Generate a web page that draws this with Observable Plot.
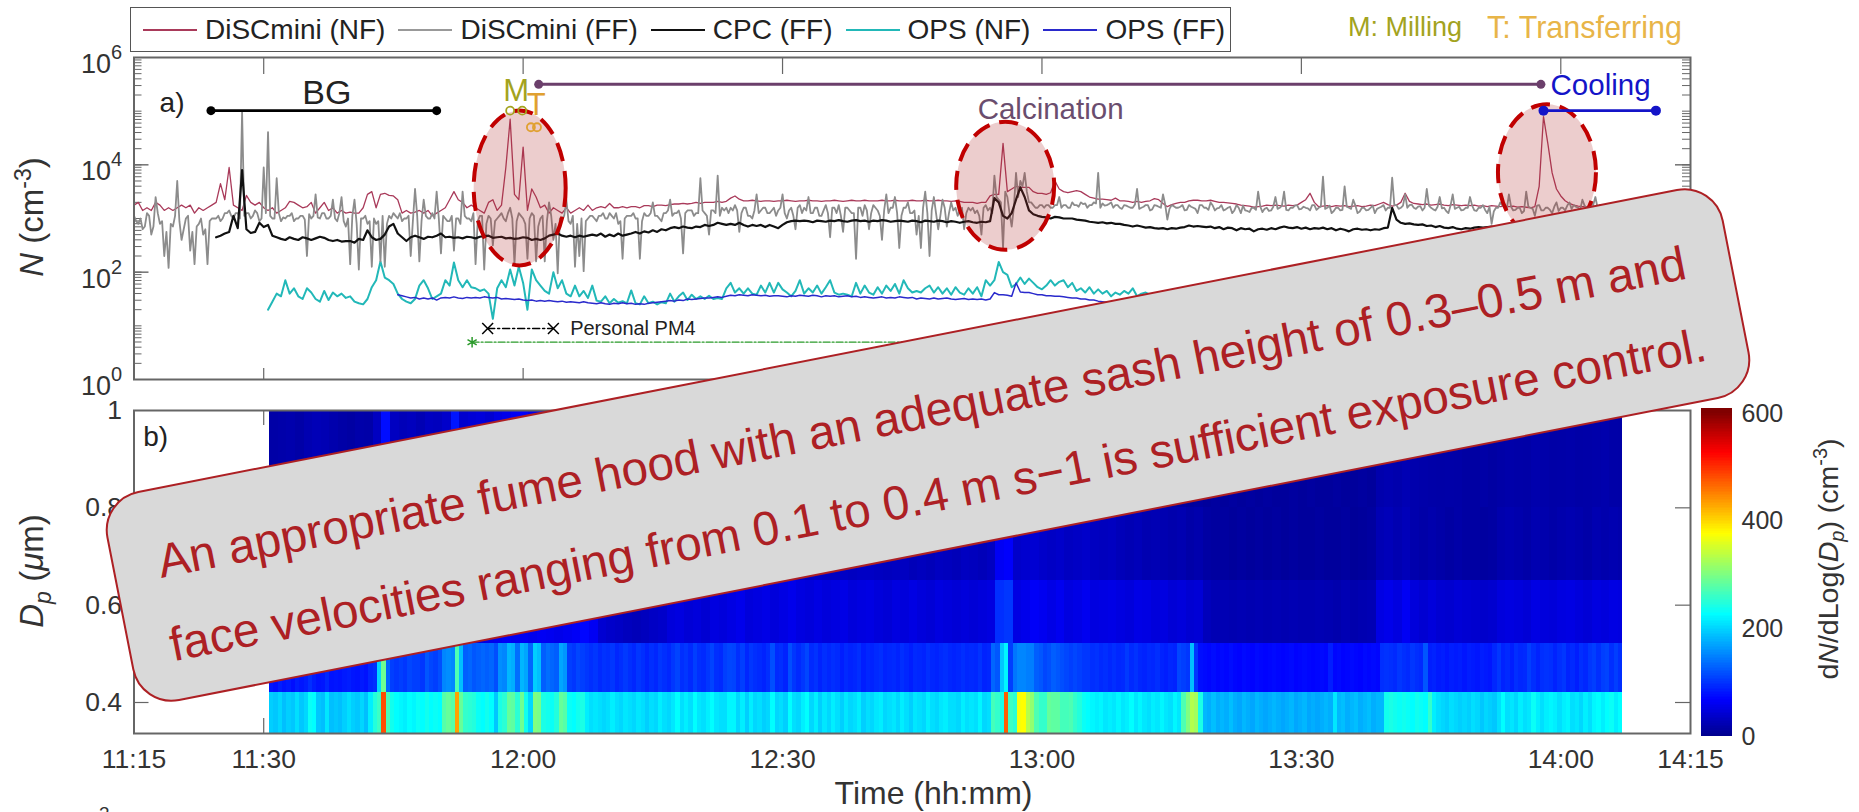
<!DOCTYPE html>
<html><head><meta charset="utf-8">
<script src="https://cdn.jsdelivr.net/npm/d3@7"></script>
<script src="https://cdn.jsdelivr.net/npm/@observablehq/plot@0.6"></script>
<style>
html,body{margin:0;padding:0;background:#fff;width:1859px;height:812px;overflow:hidden;font-family:"Liberation Sans",Arial,sans-serif;color:#333}
#page{position:relative;width:1859px;height:812px;overflow:hidden}
#page>div.p{position:absolute;left:0}
.rot{position:absolute;transform:translate(-50%,-50%) rotate(-90deg);white-space:nowrap}
sup,sub{font-size:70%;line-height:0}
#legend{position:absolute;left:130px;top:7px;width:1101px;height:45px;box-sizing:border-box;border:1.5px solid #555;background:#fff;display:flex;align-items:center;padding-left:12px;font-size:28px;color:#222;white-space:nowrap}
#legend .k{display:inline-block;width:54px;height:0;border-top:2px solid;margin-right:8px}
#legend .e{display:flex;align-items:center;margin-right:13px}
#box{position:absolute;left:104px;top:337.5px;width:1648px;height:214px;box-sizing:border-box;padding-top:18px;transform:rotate(-11.1deg);background:#d9d9d9;border:2px solid #ad2024;border-radius:40px;display:flex;flex-direction:column;justify-content:center;align-items:center;color:#ad2024;font-size:47.7px;line-height:84px;white-space:nowrap}
</style></head><body><div id="page"></div>
<script>
// readings are log10(N) taken off the left axis, sampled every half minute from 11:15
const redLog=[3.25,3.3,3.15,3.2,3.15,3.3,3.25,3.15,3.2,3.15,3.2,3.25,3.2,3.25,3.1,3.2,3.15,3.2,3.25,3.3,3.65,3.35,3.95,3.25,3.2,3.15,3.43,3.3,3.25,3.3,3.2,3.15,3.2,3.1,3.15,3.2,3.32,3.3,3.25,3.2,3.22,3.3,3.1,3.2,3.3,3.15,3.2,3.1,3.15,3.1,3.12,3.1,3.1,3.2,3.45,3.5,3.2,3.45,3.47,3.43,3.42,3.35,3.1,3.15,3.1,3.12,3.15,3.1,3.15,
3.05,3.1,3.15,3.2,3.35,3.5,3.35,3.3,3.2,3.25,3.2,3.15,3.1,3.3,3.35,3.15,3.25,3.95,4.85,3.45,3.35,4.33,3.15,3.55,3.4,3.2,3.25,3.1,3.2,3.15,3.1,3.2,3.1,3.15,3.2,3.15,3.25,3.15,3.2,3.22,3.2,3.28,3.2,3.2,3.22,
3.2,3.22,3.22,3.2,3.24,3.24,3.22,3.25,3.25,3.24,3.26,3.27,3.27,3.28,3.27,3.28,3.3,3.28,3.3,3.3,3.3,3.32,3.3,3.32,
3.38,3.42,3.36,3.33,3.33,3.34,3.33,3.32,3.33,3.33,3.32,3.33,3.33,3.34,3.33,3.32,3.33,3.33,3.34,3.33,3.33,3.32,3.33,3.33,3.34,3.33,3.32,3.33,3.34,3.33,
3.33,3.34,3.33,3.33,3.33,3.34,3.33,3.33,3.34,3.33,3.33,3.33,3.34,3.33,3.33,3.34,3.33,3.33,3.34,3.33,3.33,3.32,3.33,3.32,3.3,3.3,3.3,3.28,3.3,3.3,
3.42,3.45,3.45,4.4,3.5,3.55,3.6,3.58,3.58,3.58,3.5,3.47,3.47,3.45,3.48,3.7,3.55,3.5,3.48,
3.5,3.52,3.5,3.45,3.4,3.38,3.36,3.36,3.35,3.34,3.38,3.33,3.33,3.32,3.3,3.32,3.3,3.32,3.33,3.37,3.35,3.28,3.22,3.26,3.28,3.3,3.3,3.33,3.34,3.34,3.33,3.33,3.34,3.32,3.3,3.3,3.29,3.28,3.27,3.25,3.24,3.23,3.21,3.22,3.23,3.25,3.24,
3.25,3.24,3.23,3.25,3.24,3.25,3.3,3.35,3.47,3.3,3.22,3.23,3.24,3.22,3.24,3.23,3.24,3.22,3.23,3.24,3.22,3.23,3.25,3.24,3.27,3.3,3.26,3.23,3.25,3.3,3.47,3.32,3.28,
3.27,3.26,3.27,3.25,3.26,3.27,3.25,3.24,3.26,3.25,3.24,3.25,3.24,3.25,3.23,3.24,3.22,3.24,3.23,3.22,3.23,3.22,3.23,3.21,3.22,3.21,3.2,3.22,3.6,4.9,4.4,3.85,3.55,3.42,3.33,3.28,3.25,3.23,3.22,3.22,3.23,3.22,3.22];
const grayLog=[3.05,2.9,2.8,3.1,2.7,3.4,2.9,2.3,2.08,2.85,3.7,2.6,3.0,2.4,2.15,2.9,2.7,2.15,3.0,3.0,2.95,3.1,3.15,3.0,3.1,4.98,3.1,3.0,3.15,2.95,3.95,4.61,3.0,3.75,2.95,3.0,3.05,2.95,3.0,3.05,2.3,3.0,3.45,3.0,3.1,3.0,3.35,2.95,3.4,2.85,2.15,3.35,2.05,3.0,2.9,2.1,2.9,2.2,2.1,3.05,3.1,3.0,2.95,3.0,2.3,3.55,2.2,3.35,3.0,
3.1,3.5,2.35,3.0,2.95,2.4,3.0,3.5,3.0,2.95,2.15,3.05,2.05,3.05,2.5,3.0,3.1,2.95,3.2,2.15,3.1,3.0,2.25,3.1,2.2,3.0,2.2,3.3,2.6,1.98,3.0,3.35,2.9,2.1,2.3,2.02,3.0,3.05,2.95,3.05,3.0,3.1,3.0,2.9,2.25,3.05,3.05,3.0,2.25,3.1,3.05,3.3,3.05,2.95,3.1,3.35,3.1,3.15,2.35,3.15,3.15,3.1,3.75,3.1,2.7,3.15,3.8,3.2,3.2,
3.2,3.25,2.75,3.2,3.05,3.0,3.45,3.15,3.2,3.1,3.2,3.15,3.45,3.0,3.2,2.8,3.25,3.2,3.4,3.1,3.2,3.05,3.25,2.65,3.2,3.25,2.75,3.2,3.1,2.25,3.2,3.25,2.8,3.25,3.15,2.6,3.45,3.2,3.4,2.45,3.2,3.3,3.1,2.7,2.45,3.5,2.3,3.4,2.8,3.35,2.85,3.3,3.2,3.15,2.8,3.2,3.2,3.15,2.7,3.25,3.2,3.8,3.35,2.45,3.4,2.85,3.85,3.7,3.85,3.3,3.25,3.2,3.25,3.25,3.2,3.25,3.4,3.25,3.2,
3.3,3.25,3.3,3.28,3.25,3.3,3.85,3.28,3.25,3.3,3.25,3.2,3.25,3.22,3.2,3.55,3.2,3.25,3.15,3.25,3.22,3.45,2.98,3.25,3.2,3.22,3.15,3.25,3.2,3.1,3.25,3.2,3.3,3.15,3.2,3.15,3.2,3.1,3.25,3.1,3.15,3.12,3.2,3.5,3.12,3.2,3.15,3.4,3.2,3.5,3.15,3.2,3.25,3.18,3.2,3.15,3.25,3.2,3.78,3.2,3.1,3.2,3.15,3.6,3.2,3.35,3.1,3.2,3.15,3.2,3.1,3.2,3.25,3.2,3.76,3.25,3.2,3.45,3.25,3.2,3.22,3.15,3.55,3.2,3.15,3.4,3.2,3.1,3.45,3.2,3.15,3.2,3.4,3.15,3.2,3.25,3.1,2.9,3.2,3.3,3.2,3.45,3.15,3.2,3.1,3.5,3.2,3.05,3.25,3.15,3.2,3.1,3.3,3.2,3.15,3.3,3.25,3.2,3.35,3.2,3.3,3.4,3.25];
// the readings between those samples, quarter of a minute later: the body of the grey band
const grayBand=[2.95,3.0,2.85,3.05,2.85,3.1,2.95,2.75,2.9,3.05,2.95,2.8,3.05,2.75,2.85,3.0,2.8,2.95,3.0,
3.05,3.0,3.1,3.05,3.1,3.0,3.05,3.1,3.05,3.1,3.0,3.1,3.05,3.0,3.1,3.02,3.05,3.1,3.0,3.05,2.98,3.08,3.05,3.02,3.1,3.0,3.05,3.0,3.1,2.95,3.0,3.05,2.9,3.0,3.05,2.95,3.0,2.95,3.05,2.9,3.0,3.05,3.1,3.0,3.05,2.95,3.05,2.95,3.05,3.0,3.0,
3.0,3.05,2.95,3.05,3.0,2.9,3.05,3.0,3.1,2.95,3.05,2.9,3.0,2.95,3.05,3.0,3.1,3.0,2.95,3.05,2.9,3.0,3.05,2.85,3.05,2.95,3.05,2.9,3.0,3.05,2.95,3.05,2.9,3.0,2.95,3.05,3.0,3.05,3.1,3.0,3.05,3.1,2.95,3.0,3.05,3.1,3.0,2.95,3.05,3.1,3.05,3.0,3.1,3.15,3.05,3.1,3.0,3.1,3.15,3.05,3.1,3.15,3.05,3.15,3.1,3.05,3.15,3.1,3.15,
3.15,3.1,3.2,3.05,3.15,3.1,3.2,3.1,3.15,3.05,3.2,3.1,3.15,3.05,3.2,3.1,3.15,3.1,3.2,3.05,3.15,3.1,3.2,3.1,3.05,3.2,3.15,3.1,3.2,3.05,3.15,3.1,3.2,3.05,3.15,3.1,3.2,3.1,3.05,3.2,3.1,3.15,3.05,3.2,3.1,3.15,3.1,3.05,3.2,3.1,3.15,3.05,3.2,3.1,3.15,3.1,3.05,3.2,3.15,3.1,3.4,3.3,3.5,3.1,3.2,3.4,3.6,3.5,3.3,3.2,3.25,3.2,3.25,3.2,3.25,3.2,3.25,3.2,3.25,
3.22,3.27,3.2,3.25,3.28,3.2,3.24,3.27,3.2,3.25,3.18,3.24,3.2,3.26,3.18,3.22,3.25,3.17,3.24,3.2,3.26,3.18,3.23,3.2,3.25,3.16,3.22,3.18,3.25,3.2,3.16,3.24,3.19,3.25,3.17,3.22,3.15,3.2,3.24,3.14,3.2,3.16,3.22,3.18,3.14,3.22,3.18,3.24,3.16,3.2,3.24,3.17,3.22,3.19,3.25,3.16,3.22,3.18,3.24,3.14,3.2,3.16,3.22,3.18,3.24,3.13,3.2,3.16,3.24,3.18,3.22,3.15,3.2,3.25,3.18,3.24,3.2,3.26,3.18,3.23,3.2,3.24,3.17,3.22,3.19,3.14,3.24,3.18,3.22,3.16,3.2,3.24,3.14,3.2,3.16,3.22,3.13,3.2,3.24,3.17,3.22,3.16,3.2,3.14,3.22,3.18,3.24,3.15,3.2,3.16,3.22,3.14,3.2,3.24,3.18,3.22,3.17,3.24,3.2,3.25,3.2,3.24,3.2];
const blackLog=[2.65,2.68,2.72,2.75,3.05,2.82,3.9,2.8,2.73,2.75,2.92,2.84,2.88,2.68,2.65,2.62,2.6,2.65,2.62,2.6,2.65,2.63,2.6,2.63,2.66,2.64,2.6,2.58,2.6,2.57,2.58,2.58,2.55,2.62,2.6,2.78,2.65,2.6,2.62,2.7,2.85,2.9,2.72,2.65,2.58,2.65,2.68,2.65,2.62,2.66,
2.65,2.68,2.72,2.65,2.66,2.64,2.65,2.63,2.66,2.65,2.63,2.66,2.67,2.68,2.64,2.65,2.66,2.63,2.64,2.62,2.63,2.65,2.64,2.6,2.62,2.6,2.63,2.68,2.7,2.72,2.68,2.66,2.68,2.65,2.68,2.66,2.68,2.7,2.68,2.72,2.66,2.7,2.67,2.72,2.68,2.7,2.72,2.75,2.72,2.76,2.74,2.78,2.75,2.8,2.78,2.82,2.84,2.82,2.85,2.83,2.82,2.85,2.84,2.88,2.86,2.88,2.92,2.9,2.88,
2.9,2.88,2.92,2.88,2.85,2.88,2.86,2.88,2.84,2.88,2.85,2.82,2.88,2.93,2.95,2.96,
2.95,2.96,2.95,2.93,2.96,2.95,2.94,2.96,2.95,2.97,2.95,2.94,2.96,2.97,2.95,2.96,2.94,2.96,2.95,2.97,2.96,2.94,2.95,2.96,2.95,2.94,2.96,2.95,2.93,2.96,2.95,2.94,2.96,2.95,2.93,2.95,2.94,2.92,2.94,2.95,2.93,2.92,2.94,2.93,
2.95,3.38,3.3,3.05,3.0,3.1,3.35,3.58,3.4,3.15,3.08,3.05,3.03,3.02,3.0,3.03,3.02,3.0,3.0,
3.0,2.98,2.97,2.96,2.94,2.93,2.92,2.93,2.91,2.92,2.9,2.9,2.88,2.87,2.85,2.87,2.85,2.83,2.84,2.82,2.81,2.82,2.8,2.82,2.81,2.83,2.84,2.87,2.85,2.86,2.85,2.84,2.85,2.82,2.84,2.8,2.83,2.82,2.78,2.82,2.8,2.81,2.76,2.8,2.81,2.79,2.82,2.8,2.83,2.85,2.83,2.82,2.84,2.81,2.83,2.8,2.82,2.81,2.83,2.8,2.82,2.78,2.81,2.79,2.76,2.8,2.81,2.79,2.8,2.78,2.8,2.79,2.82,2.83,3.2,2.98,2.92,2.9,2.91,2.89,2.88,2.89,2.86,2.87,2.84,2.86,2.83,2.82,2.84,2.81,2.8,2.82,2.81,2.83,2.84,2.83,2.84,2.85,2.83,2.84,2.82,2.83,2.82,2.84];
const cyanLog=[1.3,1.45,1.6,1.55,1.85,1.6,1.7,1.55,1.5,1.7,1.62,1.5,1.45,1.65,1.48,1.62,1.55,1.6,1.52,1.55,1.45,1.42,1.4,1.5,1.72,1.85,2.2,1.9,1.85,1.78,1.6,1.5,1.45,1.42,1.5,1.75,1.85,1.7,
1.5,1.55,1.6,1.85,1.75,2.18,1.85,1.72,1.85,1.72,1.7,1.65,1.68,1.6,1.13,1.7,1.85,1.72,2.05,1.75,2.1,1.8,1.3,2.05,1.85,1.75,1.65,1.6,2.0,1.7,1.85,1.6,1.55,1.75,1.55,1.65,1.52,1.75,1.47,1.45,1.55,1.42,1.5,1.43,1.46,1.42,1.66,1.42,1.4,1.55,1.42,1.45,1.4,1.44,1.42,1.6,1.45,1.55,1.62,1.48,1.58,1.5,1.55,1.5,1.56,1.5,1.52,1.5,1.7,
1.8,1.62,1.7,1.6,1.7,1.6,1.58,1.75,1.62,1.8,1.62,1.8,1.68,1.62,1.55,1.65,1.85,1.6,1.7,1.62,1.75,1.6,1.72,1.85,1.62,1.58,1.6,1.58,1.55,1.8,1.6,1.75,1.62,1.58,1.72,1.6,1.75,1.65,1.78,1.6,1.85,1.7,1.62,1.65,1.62,1.7,1.75,
1.62,1.72,1.6,1.7,1.58,1.72,1.62,1.58,1.7,1.6,1.72,1.55,1.85,1.75,1.85,2.19,2.0,1.95,1.72,1.78,1.9,1.78,1.88,1.8,1.72,1.68,1.75,1.85,1.75,1.82,1.85,1.72,
1.8,1.65,1.7,1.62,1.72,1.6,1.68,1.6,1.65,1.55,1.62,1.58,1.65,1.6,1.7,1.55,1.6,1.62,1.58,1.6,1.55,1.6,1.62,1.55,1.58,1.6,1.55,1.58,1.55];
const blueLog=[1.58,1.56,1.54,1.52,1.53,1.5,1.52,1.5,
1.52,1.48,1.52,1.53,1.52,1.54,1.52,1.51,1.53,1.52,1.53,1.52,1.54,1.53,1.52,1.53,1.5,1.51,1.5,1.49,1.5,1.48,1.47,1.48,1.46,1.47,1.46,1.47,1.46,1.45,1.46,1.44,1.45,1.44,1.43,1.45,1.43,1.42,1.41,1.43,1.41,1.4,1.42,1.41,1.43,1.41,1.42,1.4,1.41,1.4,1.42,1.43,1.44,1.45,1.46,1.47,1.46,1.48,1.47,1.5,1.49,1.5,1.51,1.52,1.52,1.53,1.54,1.53,1.55,
1.57,1.56,1.58,1.57,1.56,1.58,1.57,1.56,1.57,1.55,1.56,1.56,1.55,1.54,1.56,1.55,1.57,1.56,1.55,1.57,1.56,1.54,1.56,1.55,1.56,1.54,1.55,1.56,1.54,1.55,1.53,1.54,1.53,1.52,1.53,1.54,1.52,1.53,1.52,1.54,1.53,1.52,1.53,1.5,1.52,1.51,1.5,1.52,1.5,1.51,1.52,1.5,1.49,1.5,1.51,1.49,1.5,1.49,1.5,1.48,
1.5,1.62,1.58,1.58,1.57,1.55,1.8,1.63,1.62,1.62,1.6,1.58,1.58,1.56,1.56,1.55,1.55,1.54,1.53,1.52,1.52,1.5,1.5,1.48,1.48,1.46,1.45,1.44];

// size-distribution bands: half-minute columns for the two lowest bands, one-minute above
const band1=[195,190,200,185,195,190,205,190,200,230,225,190,185,210,185,190,185,195,205,195,190,200,185,215,245,260,480,265,235,225,220,215,225,220,230,225,235,225,230,225,275,285,275,430,285,255,250,245,230,225,235,225,190,240,250,285,280,250,290,235,200,300,295,240,235,230,245,285,275,230,225,235,240,
215,205,210,205,200,205,215,205,200,210,205,200,210,205,195,205,200,215,205,200,210,225,205,215,205,225,210,205,215,225,210,205,
205,220,220,200,215,195,215,200,205,195,200,225,200,205,195,225,205,200,215,225,200,215,195,210,200,215,205,195,210,200,205,215,195,205,200,210,215,200,205,210,200,215,205,195,210,205,200,215,205,200,210,215,205,205,200,215,205,210,205,220,200,205,265,255,240,470,260,250,370,375,330,310,270,255,255,285,280,280,265,265,270,255,
245,230,225,220,215,220,210,215,210,220,210,215,225,210,220,210,205,215,210,220,210,205,220,210,
270,300,330,320,240,180,175,185,175,180,175,185,175,170,180,175,170,180,175,170,175,180,175,170,175,180,170,175,180,170,175,170,175,180,175,210,180,185,175,180,185,175,180,185,175,180,180,235,240,235,230,235,230,225,235,230,225,255,215,205,200,195,205,200,195,200,195,205,200,190,200,195,190,205,225,205,210,200,215,205,210,230,215,205,215,220,215,205,215,220,205,210,200,215,205,220,225,215,225,230,215,225,215,220];
const band2=[80,75,85,78,82,75,85,80,85,95,85,78,80,90,78,80,78,82,85,80,78,82,78,90,95,200,290,130,105,100,105,100,110,105,105,100,120,110,105,115,150,155,150,270,185,125,130,120,125,130,125,130,115,155,150,180,175,135,180,170,130,195,185,125,135,130,125,170,160,105,100,110,105,
100,95,100,92,98,95,100,90,95,102,95,90,100,95,88,95,90,100,95,90,100,108,95,100,92,105,95,92,100,108,95,92,
105,110,108,95,105,90,100,95,92,88,95,115,92,95,88,115,100,92,100,110,92,98,88,95,90,95,92,85,92,88,90,95,85,90,88,92,95,88,90,92,88,95,90,85,92,90,88,95,90,88,92,95,90,88,90,95,90,92,90,98,88,90,130,120,
190,220,105,140,150,150,145,145,125,120,110,115,125,120,115,110,105,110,105,100,100,95,98,92,95,90,95,90,92,102,92,98,90,88,92,90,95,88,85,90,88,
110,105,100,185,100,75,72,70,74,70,72,70,74,70,68,72,70,68,72,70,68,70,72,70,68,70,72,68,70,72,70,68,70,72,70,85,70,72,68,70,72,70,68,72,70,72,70,95,98,95,92,100,95,92,100,95,92,120,85,88,82,85,80,85,82,85,80,85,82,80,85,82,80,90,100,88,92,85,95,90,92,105,95,88,95,98,95,88,95,100,88,92,85,95,90,100,105,95,105,108,95,105,95,100];
const band3=[40,38,42,40,44,38,42,45,40,42,44,40,48,75,46,44,48,42,50,46,48,70,52,55,50,54,58,62,58,60,56,60,58,54,58,62,70,60,40,35,32,28,25,28,32,35,45,48,42,45,40,48,45,50,55,45,48,52,45,50,55,48,45,50,45,48,52,45,48,50,45,42,48,45,50,45,42,48,45,42,45,42,45,48,95,100,50,55,62,58,52,58,48,52,58,48,50,52,48,45,52,50,45,48,42,45,40,42,26,22,22,20,22,20,22,20,22,20,22,20,20,22,20,18,22,18,20,22,50,54,48,60,45,40,45,40,38,42,40,38,36,38,46,48,46,42,50,46,44,48,50,46,42,48,46,50,48];
const band4=[25,24,26,25,27,24,26,28,25,26,27,24,30,60,28,26,28,25,30,28,30,55,32,35,32,34,38,40,36,38,35,38,36,34,36,38,40,38,30,26,24,22,20,22,24,26,30,32,28,30,28,32,30,32,35,30,32,34,30,32,35,32,30,32,30,30,32,30,32,32,30,28,30,30,25,28,25,30,28,25,30,28,25,30,60,65,35,38,40,35,32,35,30,32,35,30,28,30,25,22,25,20,22,20,18,20,15,18,12,10,10,8,10,8,10,8,10,8,10,8,8,10,8,8,10,6,8,10,22,25,20,25,18,15,18,15,12,15,12,12,10,12,18,20,18,15,20,18,15,18,20,18,15,20,18,20,18];
const band5=[14,16,18,14,20,24,22,18,14,12,16,15,30,75,30,25,28,22,30,28,35,80,38,42,45,40,50,55,60,65,55,60,58,42,40,38,40,36,30,28,26,24,22,24,26,28,30,30,28,28,26,28,28,30,30,28,28,30,28,28,30,30,28,28,26,28,28,26,28,28,28,26,28,28,25,26,24,28,26,24,28,26,24,28,90,90,34,35,36,32,30,30,28,30,30,28,26,26,15,14,12,10,12,10,12,10,8,10,8,10,8,10,8,10,8,10,8,8,10,8,10,8,8,10,8,8,10,8,18,20,18,22,18,16,15,14,15,14,12,12,14,12,14,16,15,14,18,16,14,15,16,14,15,16,18,15,14];
const bandEdges=[0.3363,0.42,0.522,0.651,0.8,1];
const heatStart=690.66, heatEnd=847.1;

// axis content
const xTicks=[675,690,720,750,780,810,840,855];
const nMajor=[1,1e2,1e4,1e6];
const nDecades=[1,10,100,1e3,1e4,1e5];
const nMultipliers=[1,2,3,4,5,6,7,8,9];
const dpTicks=[0.4,0.6,0.8,1];
const cbTicks=[0,200,400,600];
const legendNames=["DiSCmini (NF)","DiSCmini (FF)","CPC (FF)","OPS (NF)","OPS (FF)"];
const legendColors=["#a93a5a","#999999","#111111","#22b8b8","#2a2acc"];

// annotations, [minute of day, log10 N]
const bgSpan=[[683.9,5.01],[710,5.01]];
const calcSpan=[[721.8,5.5],[837.7,5.5]];
const coolSpan=[[838,5.01],[851,5.01]];
const pm4Black=[[715.9,0.95],[723.5,0.95]];
const pm4Green=[[714.1,0.695],[770,0.695]];
const mDots=[[718.5,5.01],[719.9,5.01]];
const tDots=[[720.9,4.7],[721.6,4.7]];
const ellipses=[{t:719.6,v:3.57,rx:46,ry:77.5},{t:775.75,v:3.61,rx:49,ry:64},{t:838.4,v:3.86,rx:49,ry:68}];
const labels=[
 {t:697.3,v:5.33,s:"BG",c:"#222",size:34},{t:719.2,v:5.37,s:"M",c:"#a3a31e",size:31},{t:721.5,v:5.12,s:"T",c:"#e0a030",size:31},
 {t:781,v:5.03,s:"Calcination",c:"#6a4d6e",size:29.5},{t:844.6,v:5.47,s:"Cooling",c:"#1414c8",size:29.5},{t:679.4,v:5.15,s:"a)",c:"#222",size:28},
 {t:732.7,v:0.95,s:"Personal PM4",c:"#222",size:20}];
const panelLabel=[{t:677.5,d:0.945,s:"b)"}];

const FONT='"Liberation Sans",Arial,sans-serif';
const AX="#666";
const hhmm=m=>`${Math.floor(m/60)}:${String(m%60).padStart(2,"0")}`;
const series=(arr,start)=>arr.map((v,k)=>({t:675+0.5*(start+k),n:10**v}));
const grayPts=grayLog.flatMap((v,k)=>[{t:675+0.5*k,n:10**v},{t:675+0.5*k+0.25,n:10**grayBand[k]}]).filter(d=>Number.isFinite(d.n));
const pts=a=>a.map(([t,v])=>({t,n:10**v}));
const ellipseSymbol=(rx,ry)=>({draw(c){const k=0.5523;c.moveTo(rx,0);
 c.bezierCurveTo(rx,ry*k,rx*k,ry,0,ry);c.bezierCurveTo(-rx*k,ry,-rx,ry*k,-rx,0);
 c.bezierCurveTo(-rx,-ry*k,-rx*k,-ry,0,-ry);c.bezierCurveTo(rx*k,-ry,rx,-ry*k,rx,0);c.closePath();}});
const jet={type:"linear",domain:[0,66.7,225,375,525,600],range:["#00008f","#0000ff","#00ffff","#ffff00","#ff0000","#800000"],clamp:true};

const W=1556.5;
const nTicks=nDecades.flatMap(d=>nMultipliers.map(m=>d*m));
const nStrong=[1e2,1e4];

const topPlot=Plot.plot({width:1859,height:400,marginTop:57,marginBottom:21,marginLeft:133.5,marginRight:169,
 style:{background:"transparent",fontFamily:FONT,color:"#333"},
 x:{domain:[675,855],axis:null},y:{type:"log",domain:[1,1e6],axis:null},
 marks:[
  Plot.tickX(xTicks.slice(1,-1),{x:d=>d,insetBottom:305,stroke:AX,strokeWidth:1.2}),
  Plot.tickX(xTicks.slice(1,-1),{x:d=>d,insetTop:311,stroke:AX,strokeWidth:1.2}),
  Plot.tickY(nTicks,{y:d=>d,insetRight:W-8,stroke:AX}),
  Plot.tickY(nTicks,{y:d=>d,insetLeft:W-8,stroke:AX}),
  Plot.tickY(nStrong,{y:d=>d,insetRight:W-15,stroke:AX,strokeWidth:1.4}),
  Plot.tickY(nStrong,{y:d=>d,insetLeft:W-15,stroke:AX,strokeWidth:1.4}),
  Plot.line(series(cyanLog,31),{x:"t",y:"n",stroke:legendColors[3],strokeWidth:2}),
  Plot.line(series(blueLog,61),{x:"t",y:"n",stroke:legendColors[4],strokeWidth:1.5}),
  Plot.line(series(redLog,0),{x:"t",y:"n",stroke:legendColors[0],strokeWidth:1.3}),
  Plot.line(grayPts,{x:"t",y:"n",stroke:"#8c8c8c",strokeWidth:1.8}),
  Plot.line(series(blackLog,19),{x:"t",y:"n",stroke:legendColors[2],strokeWidth:2.2}),
  ...ellipses.map(e=>Plot.dot([e],{x:"t",y:d=>10**d.v,r:1,symbol:ellipseSymbol(e.rx,e.ry),fill:"#b03030",fillOpacity:0.24,stroke:"#c00000",strokeWidth:4,strokeDasharray:"19,10"})),
  Plot.line(pts(bgSpan),{x:"t",y:"n",stroke:"#000",strokeWidth:2.6}),Plot.dot(pts(bgSpan),{x:"t",y:"n",r:4.5,fill:"#000"}),
  Plot.line(pts(calcSpan),{x:"t",y:"n",stroke:"#6b3f6b",strokeWidth:3}),Plot.dot(pts(calcSpan),{x:"t",y:"n",r:4.5,fill:"#6b3f6b"}),
  Plot.line(pts(coolSpan),{x:"t",y:"n",stroke:"#1414c8",strokeWidth:2.6}),Plot.dot(pts(coolSpan),{x:"t",y:"n",r:5,fill:"#1414c8"}),
  Plot.dot(pts(mDots),{x:"t",y:"n",r:4,stroke:"#a3a31e",strokeWidth:1.8}),
  Plot.dot(pts(tDots),{x:"t",y:"n",r:4,stroke:"#e0a030",strokeWidth:1.8}),
  Plot.line(pts(pm4Black),{x:"t",y:"n",stroke:"#000",strokeWidth:1.6,strokeDasharray:"7,3,2,3"}),
  Plot.dot(pts(pm4Black),{x:"t",y:"n",r:5,symbol:"times",stroke:"#000",strokeWidth:1.5}),
  Plot.line(pts(pm4Green),{x:"t",y:"n",stroke:"#2a9a2a",strokeWidth:1.2,strokeDasharray:"7,2,2,2"}),
  Plot.dot(pts(pm4Green.slice(0,1)),{x:"t",y:"n",r:5,symbol:"asterisk",stroke:"#2a9a2a",strokeWidth:1.5}),
  Plot.text(labels,{x:"t",y:d=>10**d.v,text:"s",fill:d=>d.c,fontSize:d=>d.size}),
  Plot.frame({stroke:AX,strokeWidth:2}),
  Plot.axisY(nMajor,{anchor:"left",tickSize:0,tickPadding:23,tickFormat:()=>"10",dy:7,fontSize:27,label:null}),
  Plot.axisY(nMajor,{anchor:"left",tickSize:0,tickPadding:12,tickFormat:d=>String(Math.round(Math.log10(d))),dy:-5,fontSize:20,label:null})
 ]});

const cols=(arr,step)=>arr.map((v,k)=>({x1:heatStart+step*k,x2:Math.min(heatEnd,heatStart+step*(k+1)),v})).filter(c=>c.x1<heatEnd);
const heat=[[band1,0.5],[band2,0.5],[band3,1],[band4,1],[band5,1]].flatMap(([a,s],b)=>cols(a,s).map(c=>({...c,y1:bandEdges[b],y2:bandEdges[b+1]})));

const bottomPlot=Plot.plot({width:1859,height:422,marginTop:20,marginBottom:79,marginLeft:133.5,marginRight:169,
 style:{background:"transparent",fontFamily:FONT,color:"#333"},
 x:{domain:[675,855],axis:null},y:{domain:[bandEdges[0],1],axis:null},color:jet,
 marks:[
  Plot.tickX(xTicks.slice(1,-1),{x:d=>d,insetBottom:308,stroke:AX,strokeWidth:1.2}),
  Plot.tickX(xTicks.slice(1,-1),{x:d=>d,insetTop:308,stroke:AX,strokeWidth:1.2}),
  Plot.tickY(dpTicks.slice(0,3),{y:d=>d,insetRight:W-15,stroke:AX,strokeWidth:1.2}),
  Plot.tickY(dpTicks.slice(0,3),{y:d=>d,insetLeft:W-15,stroke:AX,strokeWidth:1.2}),
  Plot.rect(heat,{x1:"x1",x2:"x2",y1:"y1",y2:"y2",fill:"v",shapeRendering:"crispEdges"}),
  Plot.frame({stroke:AX,strokeWidth:2}),
  Plot.text(panelLabel,{x:"t",y:"d",text:"s",fontSize:28,fill:"#222"}),
  Plot.axisX(xTicks,{anchor:"bottom",tickSize:0,tickPadding:16,tickFormat:hhmm,fontSize:26.5,label:null}),
  Plot.axisY(dpTicks,{anchor:"left",tickSize:0,tickPadding:12,tickFormat:d=>String(d),fontSize:26.5,label:null})
 ]});

const cbSteps=d3.range(0,609,3);
const cbar=Plot.plot({width:1859,height:422,marginTop:18,marginBottom:76,marginLeft:1701,marginRight:127,
 style:{background:"transparent",fontFamily:FONT,color:"#333"},
 x:{domain:[0,1],axis:null},y:{domain:[0,609.3],axis:null},color:jet,
 marks:[
  Plot.rect(cbSteps,{x1:0,x2:1,y1:d=>d,y2:d=>d+3,fill:d=>d,shapeRendering:"crispEdges"}),
  Plot.axisY(cbTicks,{anchor:"right",tickSize:0,tickPadding:9,fontSize:25,label:null})
 ]});

const page=document.getElementById("page");
for(const [el,y] of [[topPlot,0],[bottomPlot,390],[cbar,390]]){const d=document.createElement("div");d.className="p";d.style.top=y+"px";d.appendChild(el);page.appendChild(d);}

const add=html=>{const t=document.createElement("template");t.innerHTML=html.trim();page.appendChild(t.content.firstChild);};
add(`<div id="legend">${legendNames.map((n,i)=>`<span class="e"><span class="k" style="border-color:${legendColors[i]}"></span>${n}</span>`).join("")}</div>`);
add(`<div style="position:absolute;left:1348px;top:12px;font-size:27px;color:#a3a31e;white-space:nowrap">M: Milling</div>`);
add(`<div style="position:absolute;left:1487px;top:10px;font-size:30.5px;color:#e8b548;white-space:nowrap">T: Transferring</div>`);
add(`<div class="rot" style="left:32px;top:217px;font-size:33px"><i>N</i> (cm<sup>-3</sup>)</div>`);
add(`<div class="rot" style="left:32px;top:571px;font-size:33px"><i>D<sub>p</sub></i> (<i>μ</i>m)</div>`);
add(`<div class="rot" style="left:1828px;top:559px;font-size:28.5px">d<i>N</i>/dLog(<i>D<sub>p</sub></i>) (cm<sup>-3</sup>)</div>`);
add(`<div style="position:absolute;left:0;top:775px;width:1867px;text-align:center;font-size:32px;line-height:36px;white-space:nowrap">Time (hh:mm)</div>`);
add(`<div style="position:absolute;left:99px;top:803px;font-size:19px">3</div>`);
add(`<div id="box"><div>An appropriate fume hood with an adequate sash height of 0.3–0.5 m and</div><div>face velocities ranging from 0.1 to 0.4 m s−1 is sufficient exposure control.</div></div>`);
</script></body></html>
